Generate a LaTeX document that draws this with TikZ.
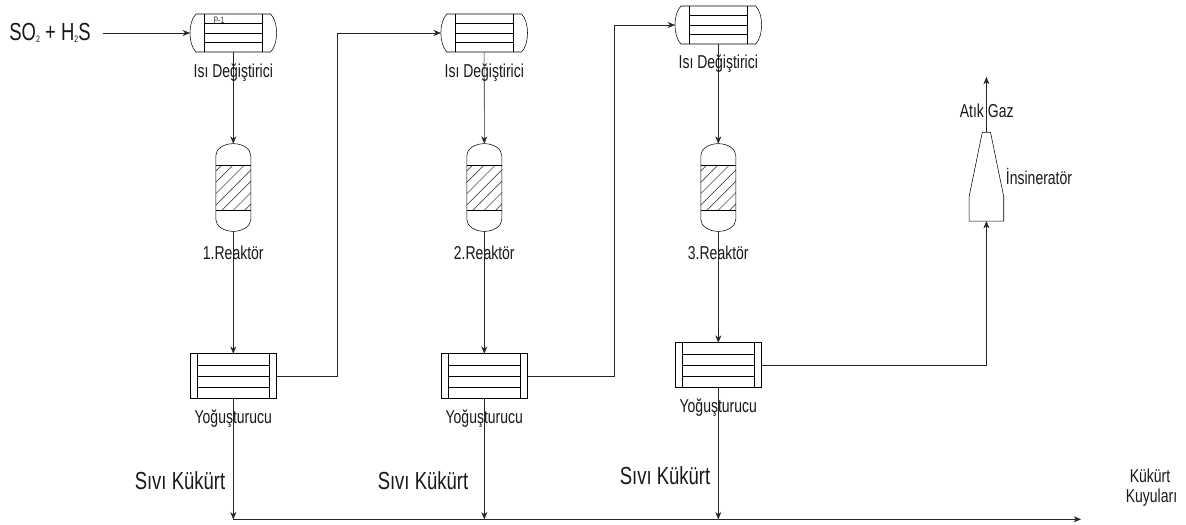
\documentclass[tikz,border=0pt]{standalone}
\usepackage{fontspec}
\setmainfont[FakeStretch=0.75]{Liberation Sans}
\usetikzlibrary{arrows.meta}
\tikzset{
  x=0.75pt,y=-0.75pt,
  line width=0.8pt,
  anchorbox/.style={rectangle,draw=none,inner sep=0pt,outer sep=0pt},
  flow/.style={draw=black!85,-{Stealth[length=5.5pt,width=4.5pt]}},
  lab/.style={font=\fontsize{14pt}{16pt}\selectfont,inner sep=0pt,text=black!90},
  biglab/.style={font=\fontsize{18.5pt}{22pt}\selectfont,inner sep=0pt,text=black!90},
  tiny/.style={font=\fontsize{7pt}{8pt}\selectfont,inner sep=0pt,text=black!80},
}
\newcommand{\subt}[1]{\raisebox{-1pt}{\fontsize{7pt}{8pt}\selectfont #1}}
% heat exchanger: name, cx, cy
\newcommand{\hxunit}[3]{%
  \node[anchorbox,minimum width=65pt,minimum height=28.5pt] (#1) at (#2,#3) {};
  \draw ([xshift=4.5pt]#1.north west) -- ([xshift=-4.5pt]#1.north east)
    .. controls ([xshift=1.5pt,yshift=-6pt]#1.north east) and ([xshift=1.5pt,yshift=6pt]#1.south east) .. ([xshift=-4.5pt]#1.south east)
    -- ([xshift=4.5pt]#1.south west)
    .. controls ([xshift=-1.5pt,yshift=6pt]#1.south west) and ([xshift=-1.5pt,yshift=-6pt]#1.north west) .. ([xshift=4.5pt]#1.north west) -- cycle;
  \draw ([xshift=10.5pt]#1.north west) -- ([xshift=10.5pt]#1.south west);
  \draw ([xshift=-10.5pt]#1.north east) -- ([xshift=-10.5pt]#1.south east);
  \foreach \f in {-7.1pt,0pt,7.1pt}
    \draw ([xshift=10.5pt,yshift=\f]#1.west) -- ([xshift=-10.5pt,yshift=\f]#1.east);
}
% condenser: name, cx, cy
\newcommand{\cdunit}[3]{%
  \node[anchorbox,draw,minimum width=65pt,minimum height=33.5pt] (#1) at (#2,#3) {};
  \draw ([xshift=5.6pt]#1.north west) -- ([xshift=5.6pt]#1.south west);
  \draw ([xshift=-5.6pt]#1.north east) -- ([xshift=-5.6pt]#1.south east);
  \foreach \f in {-8.4pt,0pt,8.4pt}
    \draw ([xshift=5.6pt,yshift=\f]#1.west) -- ([xshift=-5.6pt,yshift=\f]#1.east);
}
% reactor: name, cx, cy
\newcommand{\rxunit}[3]{%
  \node[anchorbox,minimum width=26.25pt,minimum height=65.8pt] (#1) at (#2,#3) {};
  \begin{scope}
    \clip ([yshift=-16.2pt]#1.north west) rectangle ([yshift=16.2pt]#1.south east);
    \foreach \k in {-6,...,6}
      \draw[line width=0.5pt,black!70] ([xshift=\k*8.5pt-30pt,yshift=-30pt]#1.center) -- ([xshift=\k*8.5pt+30pt,yshift=30pt]#1.center);
  \end{scope}
  \draw ([yshift=-16.2pt]#1.north west) -- ([yshift=-16.2pt]#1.north east);
  \draw ([yshift=16.2pt]#1.south west) -- ([yshift=16.2pt]#1.south east);
  \draw ([yshift=-9pt]#1.north east) -- ([yshift=9pt]#1.south east)
     .. controls ([yshift=4pt]#1.south east) and ([xshift=7.2pt]#1.south) .. (#1.south)
     .. controls ([xshift=-7.2pt]#1.south) and ([yshift=4pt]#1.south west) .. ([yshift=9pt]#1.south west)
     -- ([yshift=-9pt]#1.north west)
     .. controls ([yshift=-4pt]#1.north west) and ([xshift=-7.2pt]#1.north) .. (#1.north)
     .. controls ([xshift=7.2pt]#1.north) and ([yshift=-4pt]#1.north east) .. ([yshift=-9pt]#1.north east);
}
\begin{document}
\begin{tikzpicture}
\useasboundingbox (0,0) rectangle (1186,525);
\fill[white] (0,0) rectangle (1186,525);

\hxunit{h1}{233.3}{33}
\hxunit{h2}{484.2}{33}
\hxunit{h3}{718.3}{25}
\rxunit{r1}{233.3}{187.5}
\rxunit{r2}{484.3}{187.5}
\rxunit{r3}{718.3}{187.5}
\cdunit{c1}{233.3}{376}
\cdunit{c2}{484.3}{376}
\cdunit{c3}{718.3}{365}

\node[anchorbox,minimum width=26pt,minimum height=66.5pt] (inc) at (986.4,176.7) {};
\draw (inc.south west) -- (inc.south east) -- ([yshift=18.2pt]inc.south east)
   -- ([xshift=-9.9pt]inc.north east) -- ([xshift=9.9pt]inc.north west) -- ([yshift=18.2pt]inc.south west) -- cycle;

\coordinate (feed) at (103,33);
\coordinate (out) at (986.4,77);
\coordinate (busL) at (233.3,519.3);
\coordinate (busM) at (484.3,519.3);
\coordinate (busR) at (718.3,519.3);
\coordinate (busE) at (1081,519.3);
\coordinate (up1) at (337.3,33);
\coordinate (up2) at (614.5,25);

\draw[flow] (feed) -- (h1.west);
\draw[flow] (h1.south) -- (r1.north);
\draw[flow] (h2.south) -- (r2.north);
\draw[flow] (h3.south) -- (r3.north);
\draw[flow] (r1.south) -- (c1.north);
\draw[flow] (r2.south) -- (c2.north);
\draw[flow] (r3.south) -- (c3.north);
\draw[flow] (c1.south) -- (busL);
\draw[flow] (c2.south) -- (busM);
\draw[flow] (c3.south) -- (busR);
\draw[flow] (busL) -- (busE);
\draw[flow] (c1.east) -| (up1) -- (h2.west);
\draw[flow] (c2.east) -| (up2) -- (h3.west);
\draw[flow] (c3.east) -| (inc.south);
\draw[flow] (inc.north) -- (out);

\node[tiny] (p1) at (219,20) {P-1};
\node[biglab] (feedlab) at (50,33) {SO\subt{2} + H\subt{2}S};
\node[lab] (l1) at (233.3,73) {Isı Değiştirici};
\node[lab] (l2) at (484.3,73) {Isı Değiştirici};
\node[lab] (l3) at (718.3,64) {Isı Değiştirici};
\node[lab] (l4) at (233.3,253) {1.Reaktör};
\node[lab] (l5) at (484.3,253) {2.Reaktör};
\node[lab] (l6) at (718.3,253) {3.Reaktör};
\node[lab] (l7) at (233.3,419) {Yoğuşturucu};
\node[lab] (l8) at (484.3,419) {Yoğuşturucu};
\node[lab] (l9) at (718.3,408) {Yoğuşturucu};
\node[biglab] (s1) at (180,481) {Sıvı Kükürt};
\node[biglab] (s2) at (423,481) {Sıvı Kükürt};
\node[biglab] (s3) at (665,476) {Sıvı Kükürt};
\node[lab] (gas) at (986.7,111) {Atık Gaz};
\node[lab] (ins) at (1039,176.5) {İnsineratör};
\node[lab] (k1) at (1150,476) {Kükürt};
\node[lab] (k2) at (1151.5,498) {Kuyuları};
\end{tikzpicture}
\end{document}
